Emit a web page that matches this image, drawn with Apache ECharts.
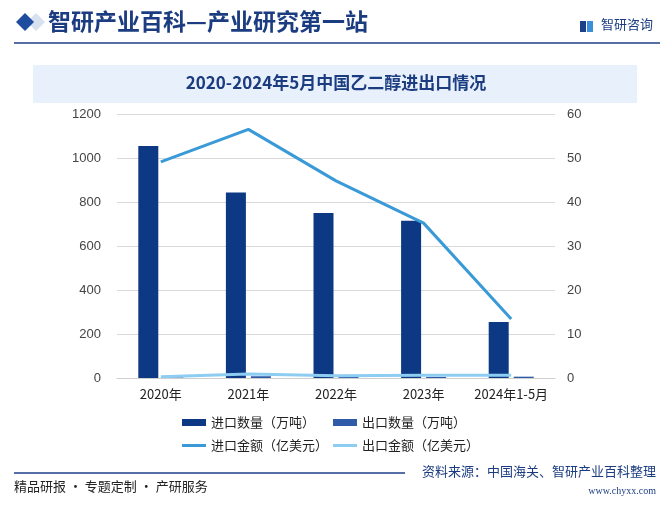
<!DOCTYPE html>
<html>
<head>
<meta charset="utf-8">
<script src="https://cdn.jsdelivr.net/npm/echarts@6/dist/echarts.min.js"></script>
<style>
  html, body { margin: 0; padding: 0; background: #fff; }
  #chart { width: 672px; height: 505px; }
</style>
</head>
<body>
<div id="chart"></div>
<script>
// 数据
const years = ['2020年', '2021年', '2022年', '2023年', '2024年1-5月'];
const importQty = [1055, 843, 750, 715, 255];      // 进口数量（万吨）
const exportQty = [3, 8, 5, 5, 6];                 // 出口数量（万吨）
const importAmt = [49.1, 56.5, 44.8, 35.2, 13.4];  // 进口金额（亿美元）
const exportAmt = [0.3, 0.9, 0.5, 0.6, 0.6];       // 出口金额（亿美元）
const leftTicks = [0, 1200, 200];
const rightTicks = [0, 60, 10];

const navy = '#1b3c80';
const font = '"Noto Sans CJK SC", "Liberation Sans", sans-serif';
// 图例图标：柱为 24x7 矩形，线为 24x3 细条（上下加极细边界撑开高度）
const barIcon = 'rect';
const lineIcon = 'path://M0,0h24v0.05h-24z M0,2h24v3h-24z M0,6.95h24v0.05h-24z';

const chart = echarts.init(document.getElementById('chart'));
chart.setOption({
  animation: false,
  backgroundColor: '#fff',
  textStyle: { fontFamily: font },
  graphic: [
    // 顶部标题栏
    { type: 'polygon', shape: { points: [[36, 13], [45, 22], [36, 31], [27, 22]] }, style: { fill: '#d7e1f0' } },
    { type: 'polygon', shape: { points: [[25, 13], [34, 22], [25, 31], [16, 22]] }, style: { fill: '#1e4c9e' } },
    { type: 'text', left: 48, top: 10, style: { text: '智研产业百科—产业研究第一站', fill: navy,
      font: 'bold 23px "Noto Sans CJK SC", sans-serif' } },
    { type: 'line', shape: { x1: 14, y1: 43, x2: 660, y2: 43 }, style: { stroke: '#1e3f8a', lineWidth: 1.5 } },
    // logo
    { type: 'rect', left: 580, top: 21, shape: { width: 6, height: 11 }, style: { fill: '#1e3f8a' } },
    { type: 'rect', left: 587, top: 21, shape: { width: 6, height: 11 }, style: { fill: '#3a8fd8' } },
    { type: 'text', left: 601, top: 18, style: { text: '智研咨询', fill: navy, font: '13px "Noto Sans CJK SC", sans-serif' } },
    // 图表标题
    { type: 'rect', left: 33, top: 65, shape: { width: 604, height: 38 }, style: { fill: '#e8f0fb' } },
    { type: 'text', left: 'center', top: 74, style: { text: '2020-2024年5月中国乙二醇进出口情况', fill: navy,
      font: 'bold 17px "Noto Sans CJK SC", sans-serif' } },
    // 底部
    { type: 'line', shape: { x1: 14, y1: 473, x2: 405, y2: 473 }, style: { stroke: '#1e3f8a', lineWidth: 1.5 } },
    { type: 'text', left: 14, top: 480, style: { text: '精品研报 · 专题定制 · 产研服务', fill: '#222',
      font: '13px "Noto Sans CJK SC", sans-serif' } },
    { type: 'text', right: 16, top: 465, style: { text: '资料来源：中国海关、智研产业百科整理', fill: navy,
      font: '13px "Noto Sans CJK SC", sans-serif' } },
    { type: 'text', right: 16, top: 486, style: { text: 'www.chyxx.com', fill: navy,
      font: '10px "Liberation Serif", serif' } }
  ],
  grid: { left: 117, right: 117, top: 114, bottom: 127 },
  legend: [
    { left: 177, top: 411, orient: 'vertical', itemWidth: 24, itemHeight: 7, itemGap: 10,
      textStyle: { fontSize: 13, color: '#222', fontFamily: font },
      data: [{ name: '进口数量（万吨）', icon: barIcon }, { name: '进口金额（亿美元）', icon: lineIcon }] },
    { left: 328, top: 411, orient: 'vertical', itemWidth: 24, itemHeight: 7, itemGap: 10,
      textStyle: { fontSize: 13, color: '#222', fontFamily: font },
      data: [{ name: '出口数量（万吨）', icon: barIcon }, { name: '出口金额（亿美元）', icon: lineIcon }] }
  ],
  xAxis: {
    type: 'category',
    data: years,
    axisTick: { show: false },
    axisLine: { lineStyle: { color: '#cfcfcf' } },
    axisLabel: { color: '#222', fontSize: 13, margin: 10, interval: 0, fontFamily: font }
  },
  yAxis: [
    { type: 'value', min: leftTicks[0], max: leftTicks[1], interval: leftTicks[2],
      axisLine: { show: false }, axisTick: { show: false },
      splitLine: { lineStyle: { color: '#d9d9d9' } },
      axisLabel: { color: '#444', fontSize: 13, margin: 16, formatter: v => String(v),
        fontFamily: '"Liberation Sans", sans-serif' } },
    { type: 'value', min: rightTicks[0], max: rightTicks[1], interval: rightTicks[2],
      axisLine: { show: false }, axisTick: { show: false }, splitLine: { show: false },
      axisLabel: { color: '#444', fontSize: 13, margin: 12, formatter: v => String(v),
        fontFamily: '"Liberation Sans", sans-serif' } }
  ],
  series: [
    { name: '进口数量（万吨）', type: 'bar', data: importQty, barWidth: 20, barGap: '25%',
      itemStyle: { color: '#0d3884' }, z: 2 },
    { name: '出口数量（万吨）', type: 'bar', data: exportQty, barWidth: 20,
      itemStyle: { color: '#2e5aa8' }, z: 2 },
    { name: '进口金额（亿美元）', type: 'line', yAxisIndex: 1, data: importAmt, symbol: 'none',
      lineStyle: { color: '#3a9ad8', width: 3 }, itemStyle: { color: '#3a9ad8' }, z: 3 },
    { name: '出口金额（亿美元）', type: 'line', yAxisIndex: 1, data: exportAmt, symbol: 'none',
      lineStyle: { color: '#8ecdf2', width: 3 }, itemStyle: { color: '#8ecdf2' }, z: 3 }
  ]
});
</script>
</body>
</html>
